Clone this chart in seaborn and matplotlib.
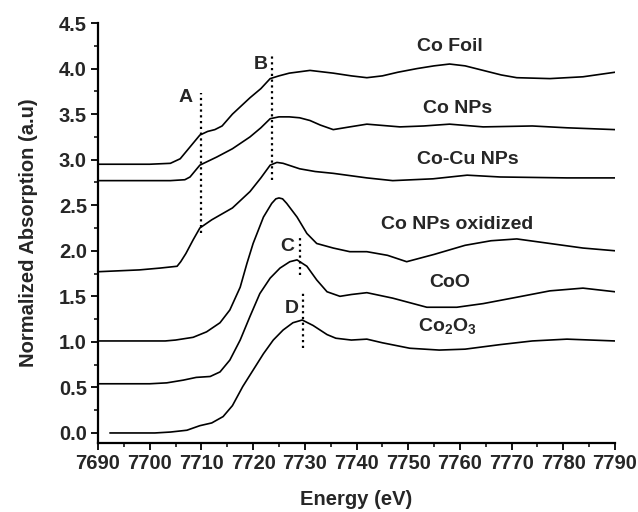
import matplotlib
matplotlib.use("Agg")
import matplotlib.pyplot as plt
from matplotlib.ticker import MultipleLocator
import pandas as pd
import seaborn as sns

# Co K-edge XANES spectra (normalized, vertically offset)
co_foil_e = [7690, 7695, 7700, 7704, 7705.9, 7707.8, 7709.7, 7711.2, 7712.6, 7714, 7716,
             7719.4, 7721.5, 7723.3, 7725, 7727, 7731, 7735.5, 7739, 7742, 7745, 7748,
             7751.7, 7755, 7758, 7761, 7764.5, 7768, 7771, 7777.4, 7783.8, 7790]
co_foil_mu = [2.95, 2.95, 2.95, 2.96, 3.01, 3.14, 3.27, 3.31, 3.33, 3.37, 3.50,
              3.68, 3.78, 3.89, 3.92, 3.95, 3.98, 3.95, 3.92, 3.90, 3.92, 3.96,
              4.00, 4.03, 4.05, 4.03, 3.98, 3.93, 3.90, 3.89, 3.91, 3.96]

co_nps_e = [7690, 7695, 7700, 7704, 7706.8, 7707.8, 7709.7, 7713, 7716, 7719.4, 7721.5,
            7723.3, 7725, 7727, 7729, 7731, 7733, 7735.5, 7738.7, 7742, 7748.4, 7753,
            7758, 7764.5, 7774, 7780.7, 7790]
co_nps_mu = [2.77, 2.77, 2.77, 2.77, 2.78, 2.81, 2.94, 3.03, 3.12, 3.25, 3.35,
             3.45, 3.47, 3.47, 3.46, 3.43, 3.38, 3.33, 3.36, 3.39, 3.36, 3.37,
             3.39, 3.36, 3.37, 3.35, 3.33]

co_cu_e = [7690, 7694, 7698, 7702, 7705.3, 7706, 7707, 7708.4, 7709.7, 7712, 7716,
           7719.4, 7721.5, 7723.3, 7724.6, 7725.8, 7729, 7732, 7735.5, 7742, 7747,
           7754.8, 7761.4, 7767.8, 7780.7, 7790]
co_cu_mu = [1.77, 1.78, 1.79, 1.81, 1.83, 1.88, 1.97, 2.12, 2.25, 2.34, 2.47,
            2.65, 2.80, 2.94, 2.97, 2.96, 2.90, 2.87, 2.85, 2.80, 2.77,
            2.79, 2.83, 2.81, 2.80, 2.80]

co_ox_e = [7690, 7695, 7700, 7703, 7705, 7708.4, 7711, 7713.6, 7715.5, 7717.5, 7718.8,
           7720, 7722, 7723.6, 7724.4, 7725, 7725.7, 7726.5, 7728.5, 7730.4, 7732.3,
           7735.5, 7738.7, 7742, 7746, 7749.7, 7755, 7761, 7766, 7771, 7777.4, 7783.8,
           7790]
co_ox_mu = [1.01, 1.01, 1.01, 1.01, 1.02, 1.05, 1.11, 1.21, 1.35, 1.60, 1.86,
            2.08, 2.37, 2.52, 2.57, 2.58, 2.57, 2.52, 2.37, 2.19, 2.08,
            2.03, 1.99, 1.99, 1.95, 1.88, 1.96, 2.06, 2.11, 2.13, 2.08, 2.03,
            2.00]

coo_e = [7690, 7695, 7700, 7703.3, 7706.5, 7709, 7711.7, 7713.6, 7715.5, 7717.5, 7719.4,
         7721.3, 7723.3, 7725.2, 7727.1, 7728.5, 7730.4, 7732.3, 7734.3, 7736.8, 7739,
         7742, 7747, 7753.6, 7759.4, 7764.5, 7771, 7777.4, 7783.8, 7790]
coo_mu = [0.54, 0.54, 0.54, 0.55, 0.58, 0.61, 0.62, 0.67, 0.80, 1.02, 1.28,
          1.53, 1.70, 1.81, 1.88, 1.90, 1.83, 1.68, 1.55, 1.50, 1.52,
          1.54, 1.48, 1.38, 1.38, 1.42, 1.49, 1.56, 1.59, 1.55]

co2o3_e = [7692.3, 7697, 7701, 7704, 7707.2, 7709.7, 7712, 7714.2, 7716, 7718, 7720,
           7722, 7723.9, 7725.8, 7727.7, 7729.5, 7731.6, 7734.3, 7736, 7739, 7742, 7745,
           7750.3, 7756, 7761, 7767.8, 7774, 7780.7, 7790]
co2o3_mu = [0.00, 0.00, 0.00, 0.01, 0.03, 0.08, 0.11, 0.18, 0.30, 0.51, 0.69,
            0.87, 1.02, 1.13, 1.21, 1.24, 1.18, 1.08, 1.04, 1.02, 1.03, 0.99,
            0.93, 0.91, 0.92, 0.97, 1.01, 1.03, 1.01]

sample_names = ["Co Foil", "Co NPs", "Co-Cu NPs", "Co NPs oxidized", "CoO", "Co$_2$O$_3$"]
label_e = [7758, 7759.5, 7761.5, 7759.5, 7758, 7757.5]
label_mu = [4.24, 3.56, 3.00, 2.29, 1.65, 1.17]

# Edge features marked with dotted guides: name, energy, y-span, label position
feature_names = ["A", "B", "C", "D"]
feature_e = [7710, 7723.7, 7729, 7729.6]
feature_lo = [2.20, 2.78, 1.73, 0.93]
feature_hi = [3.73, 4.15, 2.17, 1.55]
feature_lab_e = [7707, 7721.4, 7726.6, 7727.4]
feature_lab_mu = [3.68, 4.05, 2.05, 1.37]

spectra = [(co_foil_e, co_foil_mu), (co_nps_e, co_nps_mu), (co_cu_e, co_cu_mu),
           (co_ox_e, co_ox_mu), (coo_e, coo_mu), (co2o3_e, co2o3_mu)]
frames = []
for name, (e, mu) in zip(sample_names, spectra):
    frames.append(pd.DataFrame({"energy": e, "mu": mu, "sample": name}))
df = pd.concat(frames, ignore_index=True)

sns.set_theme(style="ticks")
plt.rcParams["font.family"] = ["Liberation Sans", "DejaVu Sans"]
plt.rcParams["font.weight"] = "bold"
plt.rcParams["mathtext.fontset"] = "custom"
plt.rcParams["mathtext.rm"] = "Liberation Sans:bold"
plt.rcParams["mathtext.it"] = "Liberation Sans:bold"
plt.rcParams["mathtext.bf"] = "Liberation Sans:bold"

fig = plt.figure(figsize=(6.38, 5.12), dpi=100)
ax = fig.add_axes([0.1536, 0.1348, 0.8104, 0.8202])

sns.lineplot(data=df, x="energy", y="mu", units="sample", estimator=None,
             color="black", linewidth=1.2, sort=False, ax=ax, legend=False)

for name, x, y in zip(sample_names, label_e, label_mu):
    ax.text(x, y, name, ha="center", va="center", fontsize=14, fontweight="bold")

for name, x, lo, hi, lx, ly in zip(feature_names, feature_e, feature_lo, feature_hi,
                                   feature_lab_e, feature_lab_mu):
    ax.plot([x, x], [lo, hi], color="black", linestyle=(0, (1, 1.6)), linewidth=1.6)
    ax.text(lx, ly, name, ha="center", va="center", fontsize=14, fontweight="bold")

ax.set_xlim(7690, 7790)
ax.set_ylim(-0.11, 4.5)
ax.xaxis.set_major_locator(MultipleLocator(10))
ax.xaxis.set_minor_locator(MultipleLocator(5))
ax.yaxis.set_minor_locator(MultipleLocator(0.25))
ax.set_yticks([0, 0.5, 1.0, 1.5, 2.0, 2.5, 3.0, 3.5, 4.0, 4.5])
ax.set_yticklabels(["0.0", "0.5", "1.0", "1.5", "2.0", "2.5", "3.0", "3.5", "4.0", "4.5"])

ax.tick_params(which="major", direction="out", length=5, width=1.3, labelsize=14.5,
               pad=3, color="black")
ax.tick_params(which="minor", direction="out", length=3, width=1.1, color="black")
for lab in ax.get_xticklabels() + ax.get_yticklabels():
    lab.set_fontweight("bold")

sns.despine(ax=ax)
ax.spines["left"].set_linewidth(1.6)
ax.spines["bottom"].set_linewidth(1.6)
ax.spines["left"].set_color("black")
ax.spines["bottom"].set_color("black")

ax.set_xlabel("Energy (eV)", fontsize=14.5, fontweight="bold", labelpad=12)
ax.set_ylabel("Normalized Absorption (a.u)", fontsize=14.5, fontweight="bold", labelpad=15)

fig.savefig("out.png", dpi=100)
